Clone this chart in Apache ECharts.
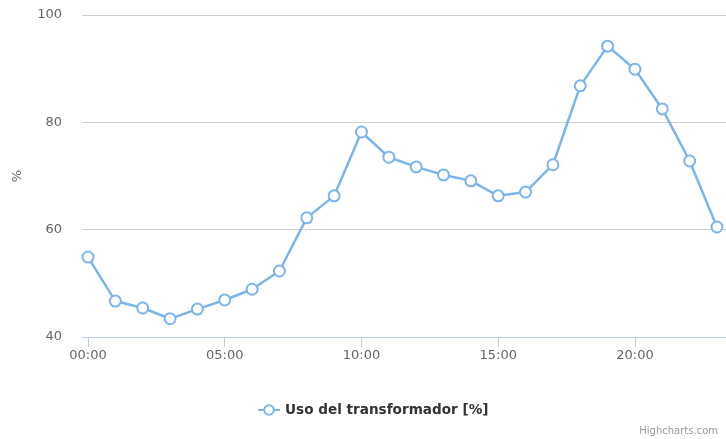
<!DOCTYPE html>
<html>
<head>
<meta charset="utf-8">
<script src="https://cdn.jsdelivr.net/npm/echarts@6/dist/echarts.min.js"></script>
<style>
html,body{margin:0;padding:0;background:#fff;}
#c{width:726px;height:439px;}
</style>
</head>
<body>
<div id="c"></div>
<script>
const hours = ['00:00','01:00','02:00','03:00','04:00','05:00','06:00','07:00','08:00','09:00','10:00','11:00','12:00','13:00','14:00','15:00','16:00','17:00','18:00','19:00','20:00','21:00','22:00','23:00'];
const usage = [54.9, 46.7, 45.4, 43.4, 45.2, 46.9, 48.9, 52.3, 62.2, 66.3, 78.2, 73.5, 71.7, 70.2, 69.1, 66.3, 67.0, 72.1, 86.8, 94.2, 89.9, 82.5, 72.8, 60.5];
const xTickIdx = [0, 5, 10, 15, 20];
const yTicks = [40, 60, 80, 100];
const seriesName = 'Uso del transformador [%]';
const yName = '%';

const font = 'DejaVu Sans';
const chart = echarts.init(document.getElementById('c'), null, {renderer: 'canvas'});
chart.setOption({
  animation: false,
  backgroundColor: '#fff',
  textStyle: {fontFamily: font},
  grid: {left: 82, right: 0, top: 15, bottom: 102, containLabel: false},
  xAxis: {
    type: 'value',
    min: -0.22,
    max: 23.33,
    axisLine: {show: true, lineStyle: {color: '#c0d0e0', width: 1}},
    axisTick: {show: true, length: 10, lineStyle: {color: '#c0d0e0'}, customValues: xTickIdx},
    axisLabel: {
      customValues: xTickIdx,
      formatter: v => hours[Math.round(v)],
      color: '#666', fontSize: 13, fontFamily: font, margin: 12
    },
    splitLine: {show: false}
  },
  yAxis: {
    type: 'value',
    min: yTicks[0],
    max: yTicks[yTicks.length - 1],
    interval: 20,
    name: yName,
    nameLocation: 'middle',
    nameRotate: 90,
    nameGap: 58,
    nameTextStyle: {color: '#666', fontSize: 13, fontFamily: font},
    axisLine: {show: false},
    axisTick: {show: false},
    axisLabel: {color: '#666', fontSize: 13, fontFamily: font, margin: 20},
    splitLine: {show: true, lineStyle: {color: '#cfcfcf', width: 1}}
  },
  legend: {
    show: true,
    bottom: 17,
    left: 252,
    itemWidth: 22,
    itemHeight: 12,
    itemGap: 8,
    textStyle: {color: '#333', fontSize: 13.6, fontWeight: 'bold', fontFamily: font},
    data: [seriesName]
  },
  graphic: [{
    type: 'text',
    right: 8,
    bottom: 3,
    style: {text: 'Highcharts.com', fill: '#999', fontSize: 10, fontFamily: font}
  }],
  series: [{
    name: seriesName,
    type: 'line',
    data: usage.map((v, i) => [i, v]),
    symbol: 'emptyCircle',
    symbolSize: 11,
    lineStyle: {color: '#7cb5ec', width: 2.5},
    itemStyle: {color: '#7cb5ec', borderWidth: 2.5}
  }]
});
</script>
</body>
</html>
